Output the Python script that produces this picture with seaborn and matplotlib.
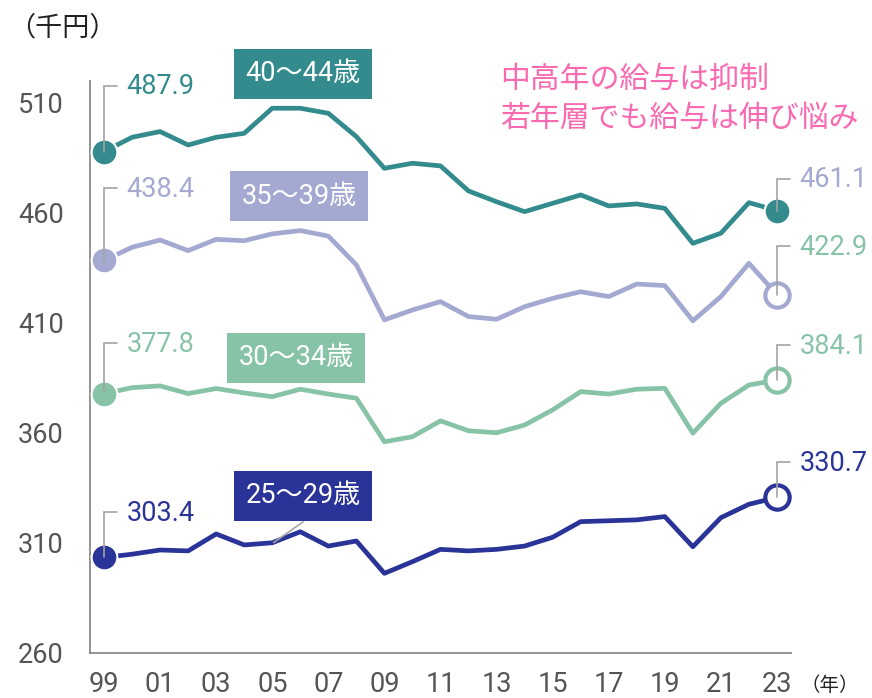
import matplotlib
matplotlib.use("Agg")
import matplotlib.pyplot as plt
import pandas as pd
import seaborn as sns

# data (千円)
YEARS = list(range(1999, 2024))
GROUPS = ["40～44歳", "35～39歳", "30～34歳", "25～29歳"]
AGE_40_44 = [487.9, 494.4, 497.0, 490.9, 494.4, 496.2, 507.6, 507.6, 505.3, 494.7,
             480.3, 482.6, 481.4, 470.0, 465.1, 460.6, 464.4, 468.2, 463.2, 464.1,
             462.1, 446.2, 450.8, 464.7, 461.1]
AGE_35_39 = [438.4, 444.4, 447.7, 442.9, 448.0, 447.4, 450.5, 452.0, 449.5, 436.4,
             411.4, 415.9, 419.7, 412.9, 411.7, 417.4, 421.2, 424.2, 422.0, 427.7,
             427.0, 411.0, 422.0, 437.1, 422.9]
AGE_30_34 = [377.8, 380.6, 381.4, 377.9, 380.2, 378.2, 376.5, 379.9, 377.7, 375.8,
             356.0, 358.3, 365.5, 361.0, 360.1, 363.6, 370.5, 378.8, 377.7, 379.9,
             380.3, 359.9, 373.5, 381.8, 384.1]
AGE_25_29 = [303.4, 304.9, 306.8, 306.4, 314.1, 309.1, 310.1, 315.1, 308.6, 310.9,
             296.2, 301.5, 307.1, 306.4, 307.1, 308.6, 312.6, 319.7, 320.1, 320.5,
             322.0, 308.3, 321.5, 327.6, 330.7]
SERIES = [AGE_40_44, AGE_35_39, AGE_30_34, AGE_25_29]
XTICK_LABELS = ["99", "01", "03", "05", "07", "09", "11", "13", "15", "17", "19", "21", "23"]
YTICKS = [260, 310, 360, 410, 460, 510]

COLORS = ["#338B8D", "#A4A9D2", "#87C3A6", "#2A3397"]
END_LABEL_COLORS = ["#A4A9D2", "#87C3A6", "#87C3A6", "#2A3397"]  # as in the original
PINK = "#FA6AB0"
GREY_LEAD = "#A3A3A3"

df = pd.DataFrame({
    "year": YEARS * len(GROUPS),
    "value": sum(SERIES, []),
    "group": [g for g in GROUPS for _ in YEARS],
})

sns.set_style("white")
plt.rcParams["font.family"] = ["Roboto", "Noto Sans CJK JP", "DejaVu Sans"]

fig = plt.figure(figsize=(8.72, 6.98), dpi=100)
ax = fig.add_axes([0.1032, 0.0645, 0.8039, 0.8195])

sns.lineplot(data=df, x="year", y="value", hue="group", hue_order=GROUPS,
             palette=COLORS, lw=3.4, legend=False, ax=ax, zorder=3)

# start / end markers
for i, vals in enumerate(SERIES):
    c = COLORS[i]
    ax.plot(YEARS[0], vals[0], "o", ms=18.5, mfc=c, mec="white", mew=1.5,
            zorder=5, clip_on=False)
    if i == 0:
        ax.plot(YEARS[-1], vals[-1], "o", ms=18.5, mfc=c, mec="white", mew=1.5,
                zorder=5, clip_on=False)
    else:
        ax.plot(YEARS[-1], vals[-1], "o", ms=17.5, mfc="white", mec=c, mew=3,
                zorder=5, clip_on=False)

# leader lines + value labels
start_rise = [30, 33, 23, 20.5]
end_rise = [14.5, 22, 16, 16]
for i, vals in enumerate(SERIES):
    for x, v, dy, col in [(YEARS[0], vals[0], start_rise[i], COLORS[i]),
                          (YEARS[-1], vals[-1], end_rise[i], END_LABEL_COLORS[i])]:
        ax.plot([x, x, x + 0.47], [v, v + dy, v + dy], color=GREY_LEAD, lw=1.2,
                zorder=6, clip_on=False, solid_joinstyle="miter")
        ax.text(x + 0.8, v + dy - 0.6, f"{v:.1f}", color=col, fontsize=19.5,
                ha="left", va="center", zorder=7, clip_on=False)

# group name boxes
box_pos = [(2006.1, 523.3), (2005.95, 467.7), (2005.85, 394.1), (2006.1, 331.4)]
ax.plot([2006.1, 2005.05], [319.6, 310.2], color=GREY_LEAD, lw=1.2, zorder=6)
for (bx, by), name, c in zip(box_pos, GROUPS, COLORS):
    ax.text(bx, by, name, color="white", fontsize=19.5, ha="center", va="center",
            zorder=8, clip_on=False,
            bbox=dict(boxstyle="square,pad=0.42", fc=c, ec="none"))

# axes styling
ax.set_xlim(1998.5, 2023.5)
ax.set_ylim(260, 520)
ax.set_xticks(YEARS[::2], XTICK_LABELS)
ax.set_xticks([y - 0.5 for y in YEARS[::2]], minor=True)
ax.set_yticks(YTICKS, [str(t) for t in YTICKS])
ax.tick_params(axis="x", which="major", length=0, pad=13, labelsize=19.5, labelcolor="#555555")
ax.tick_params(axis="x", which="minor", length=8, width=1.3, color="#8A8A8A", direction="out")
ax.tick_params(axis="y", length=0, pad=19, labelsize=19.5, labelcolor="#555555")
ax.set_xlabel("")
ax.set_ylabel("")
for s in ["top", "right"]:
    ax.spines[s].set_visible(False)
for s in ["left", "bottom"]:
    ax.spines[s].set_color("#8A8A8A")
    ax.spines[s].set_linewidth(1.3)
ax.grid(False)

# texts
fig.text(8 / 872, 1 - 28 / 698, "（千円）", fontsize=19.5, color="#222222",
         ha="left", va="center")
fig.text(800 / 872, 1 - 686 / 698, "（年）", fontsize=14, color="#222222",
         ha="left", va="center")
fig.text(500 / 872, 1 - 80 / 698, "中高年の給与は抑制", fontsize=21.5, color=PINK,
         ha="left", va="center")
fig.text(500 / 872, 1 - 119 / 698, "若年層でも給与は伸び悩み", fontsize=21.5, color=PINK,
         ha="left", va="center")

fig.savefig("out.png", dpi=100)
